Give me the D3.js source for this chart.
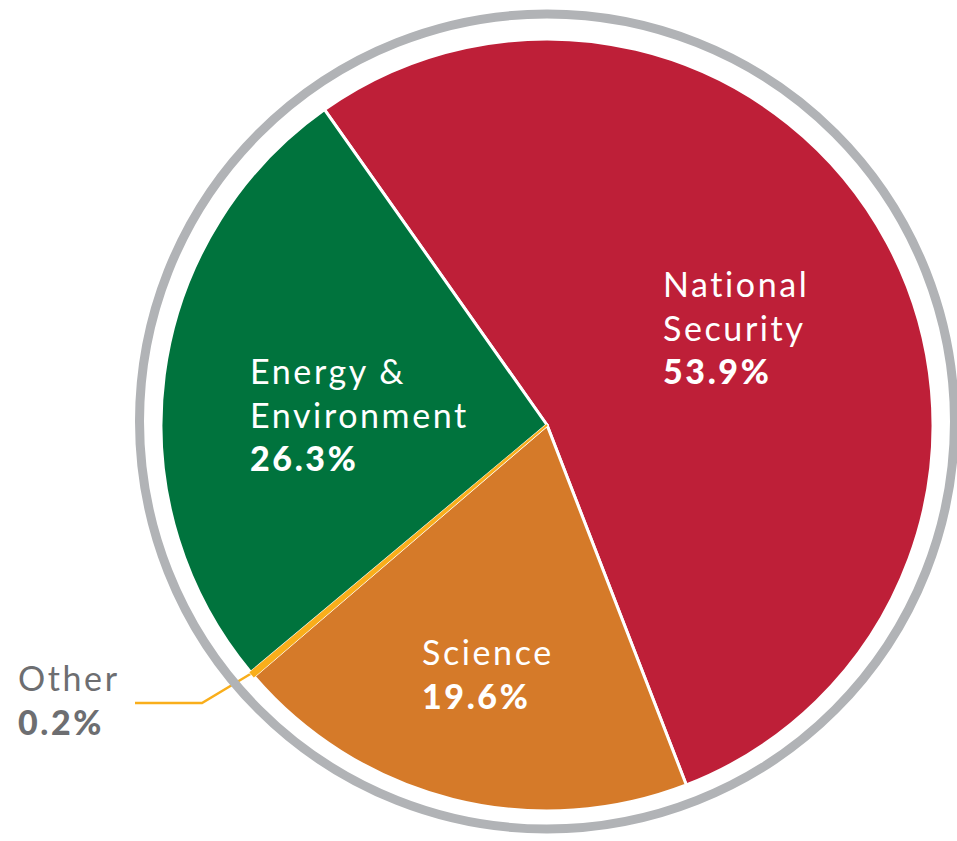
<!DOCTYPE html>
<html>
<head>
<meta charset="utf-8">
<script src="https://cdn.jsdelivr.net/npm/d3@7"></script>
<style>
  html, body { margin: 0; padding: 0; background: #fff; }
  text { font-family: Lato, "Open Sans", sans-serif; }
</style>
</head>
<body>
<div id="chart"></div>
<script>
// slice order goes clockwise from the top-left boundary
var categories = ["National Security", "Science", "Other", "Energy & Environment"];
var shares = [53.9, 19.6, 0.2, 26.3];
var labelLines = [["National", "Security"], ["Science"], ["Other"], ["Energy &", "Environment"]];
var colors = ["#BE1F38", "#D57A29", "#F9AE1B", "#00733D"];

var svgwidth = 957;
var svgheight = 841;
var cx = 547, cy = 425;
var radius = 386;

// where each label block starts, relative to the pie centre
var labelPos = [
  { dx: 116, dy: -128, fill: "#fff" },
  { dx: -125, dy: 240, fill: "#fff" },
  { dx: -529, dy: 266, fill: "#6D6E71" },
  { dx: -297, dy: -41, fill: "#fff" }
];

var svg = d3.select("#chart")
  .append("svg")
  .attr("width", svgwidth)
  .attr("height", svgheight);

var start = -35.2 * Math.PI / 180;
var pie = d3.pie()
  .sort(null)
  .value(function(d) { return d; })
  .startAngle(start)
  .endAngle(start + 2 * Math.PI);

var arcs = pie(shares);
var arc = d3.arc().innerRadius(0).outerRadius(radius);

var chartGroup = svg.append("g")
  .attr("transform", `translate(${cx}, ${cy})`);

// leader for the tiny slice, drawn under the ring
var other = arcs[2];
var mid = (other.startAngle + other.endAngle) / 2;
var p0 = [Math.sin(mid) * (radius - 8), -Math.cos(mid) * (radius - 8)];
chartGroup.append("polyline")
  .attr("points", [p0, [-345, 278], [-412, 278]].map(function(p) { return p.join(","); }).join(" "))
  .attr("fill", "none")
  .attr("stroke", "#F9AE1B")
  .attr("stroke-width", 2.5);

chartGroup.selectAll("path.slice")
  .data(arcs)
  .enter()
  .append("path")
  .attr("class", "slice")
  .attr("d", arc)
  .attr("fill", function(d, i) { return colors[i]; })
  .attr("stroke", "#fff")
  .attr("stroke-width", 3)
  .attr("stroke-linejoin", "round");

// the tiny slice again on top so it stays visible between the white edges
chartGroup.append("path")
  .attr("d", arc(other))
  .attr("fill", colors[2])
  .attr("stroke", colors[2])
  .attr("stroke-width", 2);

// outer gray ring
svg.append("circle")
  .attr("cx", cx)
  .attr("cy", cy - 3.5)
  .attr("r", 407.5)
  .attr("fill", "none")
  .attr("stroke", "#B1B3B6")
  .attr("stroke-width", 9);

var lineH = 43.5;
var labels = chartGroup.selectAll("g.label")
  .data(arcs)
  .enter()
  .append("g")
  .attr("class", "label")
  .attr("transform", function(d, i) { return `translate(${labelPos[i].dx}, ${labelPos[i].dy})`; });

labels.each(function(d, i) {
  var g = d3.select(this);
  var lines = labelLines[i];
  lines.forEach(function(t, k) {
    g.append("text")
      .attr("x", 0)
      .attr("y", k * lineH)
      .attr("font-size", 34)
      .attr("letter-spacing", 2.6)
      .attr("fill", labelPos[i].fill)
      .text(t);
  });
  g.append("text")
    .attr("x", 0)
    .attr("y", lines.length * lineH)
    .attr("font-size", 34)
    .attr("font-weight", 900)
    .attr("letter-spacing", 2.6)
    .attr("fill", labelPos[i].fill)
    .text(d3.format(".1f")(shares[i]) + "%");
});
</script>
</body>
</html>
